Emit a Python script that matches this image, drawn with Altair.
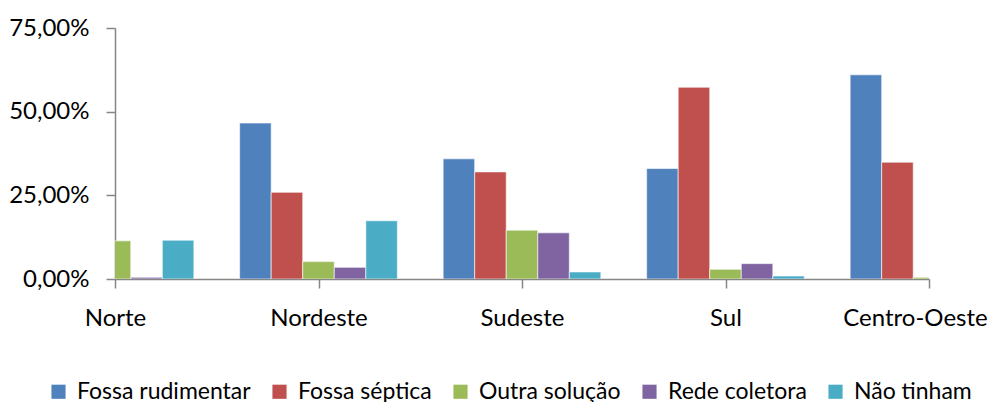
import altair as alt
import pandas as pd

regions = ["Norte", "Nordeste", "Sudeste", "Sul", "Centro-Oeste"]
series = ["Fossa rudimentar", "Fossa séptica", "Outra solução", "Rede coletora", "Não tinham"]
colors = ["#4F81BD", "#C0504D", "#9BBB59", "#8064A2", "#4BACC6"]

# values in percent, one list per series (order follows regions)
fossa_rudimentar = [52.0, 46.6, 35.9, 33.0, 61.0]
fossa_septica = [24.0, 25.9, 32.0, 57.3, 34.9]
outra_solucao = [11.4, 5.2, 14.6, 2.9, 0.5]
rede_coletora = [0.5, 3.5, 13.8, 4.6, 2.8]
nao_tinham = [11.6, 17.4, 2.1, 0.9, 0.4]

y_ticks = [0, 25, 50, 75]

values = [fossa_rudimentar, fossa_septica, outra_solucao, rede_coletora, nao_tinham]
bar_w = 0.155
rows = []
for si, (s, vals) in enumerate(zip(series, values)):
    for gi, v in enumerate(vals):
        x0 = gi + (si - 2.5) * bar_w
        rows.append({"regiao": regions[gi], "serie": s, "ordem": si,
                     "x0": x0, "x1": x0 + bar_w, "valor": v, "base": 0})
df = pd.DataFrame(rows)

label_expr = "[" + ",".join("'" + r + "'" for r in regions) + "][datum.value]"
last_idx = len(regions) - 1

FONT = "Lato"

chart = alt.Chart(df).mark_bar(
    clip=True, stroke="white", strokeWidth=1, strokeOpacity=0.6
).encode(
    x=alt.X("x0:Q",
            scale=alt.Scale(domain=[0, 4], nice=False, zero=False),
            axis=alt.Axis(values=list(range(len(regions))), labelExpr=label_expr,
                          title=None, grid=False, tickSize=9, labelPadding=18,
                          labelFlush=False, labelOverlap=False,
                          labelOffset={"condition": {"test": f"datum.value == {last_idx}",
                                                     "value": -14},
                                       "value": 0},
                          domainColor="#868686", tickColor="#868686",
                          domainWidth=1.5, tickWidth=1.5)),
    x2="x1:Q",
    y=alt.Y("valor:Q",
            scale=alt.Scale(domain=[0, 75], nice=False),
            axis=alt.Axis(values=y_ticks, title=None, grid=False, tickSize=9,
                          labelPadding=17,
                          labelExpr="replace(format(datum.value, '.2f'), '.', ',') + '%'",
                          domainColor="#868686", tickColor="#868686",
                          domainWidth=1.5, tickWidth=1.5)),
    y2="base:Q",
    color=alt.Color("serie:N",
                    scale=alt.Scale(domain=series, range=colors),
                    sort=series,
                    legend=alt.Legend(orient="none", direction="horizontal",
                                      legendX=-68, legendY=352, title=None,
                                      symbolType="square", symbolSize=200,
                                      symbolStrokeWidth=0, labelOffset=7,
                                      columnPadding=17, padding=0,
                                      labelLimit=400, labelFontSize=23)),
    order=alt.Order("ordem:Q"),
).properties(
    width=814, height=251,
    autosize=alt.AutoSizeParams(type="none"),
    padding={"left": 107, "top": 20, "right": 66, "bottom": 124},
).configure_axis(
    labelFont=FONT, labelFontSize=24, labelColor="#000000",
).configure_legend(
    labelFont=FONT, labelColor="#000000",
).configure_view(
    stroke=None,
)

chart.save("out.html", embed_options={"renderer": "svg", "actions": False})
